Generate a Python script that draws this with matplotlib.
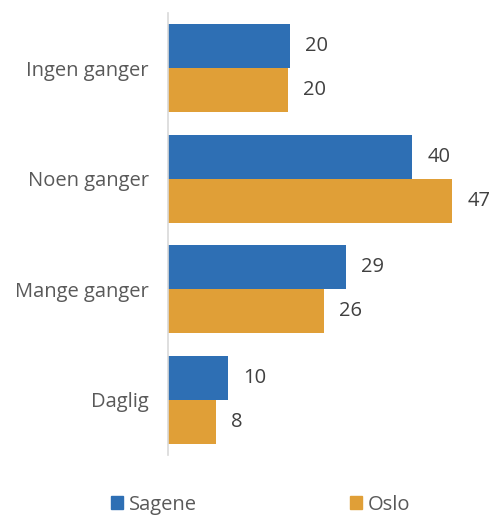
import numpy as np
import matplotlib.pyplot as plt
from matplotlib.patches import Patch

categories = ["Ingen ganger", "Noen ganger", "Mange ganger", "Daglig"]
sagene = [20.0, 40.0, 29.2, 9.8]
oslo = [19.6, 46.6, 25.6, 7.9]
series_names = ["Sagene", "Oslo"]

BLUE = "#2E6FB4"
ORANGE = "#E09F37"
FONT = "Open Sans"
FS = 14.5

fig = plt.figure(figsize=(4.92, 5.15), dpi=100)
ax = fig.add_axes([168 / 492, 60 / 515, 305 / 492, 442 / 515])

y = np.arange(len(categories))
h = 0.4
ax.barh(y - h / 2, sagene, height=h, color=BLUE)
ax.barh(y + h / 2, oslo, height=h, color=ORANGE)

for yi, v in zip(y, sagene):
    ax.text(v + 2.5, yi - h / 2, f"{v:.0f}", va="center", ha="left",
            fontsize=FS, color="#404040", family=FONT)
for yi, v in zip(y, oslo):
    ax.text(v + 2.5, yi + h / 2, f"{v:.0f}", va="center", ha="left",
            fontsize=FS, color="#404040", family=FONT)

ax.set_ylim(len(categories) - 0.5, -0.5)
ax.set_xlim(0, 50)
ax.set_yticks(y)
ax.set_yticklabels(categories, fontsize=FS, color="#595959", family=FONT)
ax.tick_params(axis="y", length=0, pad=14)
ax.set_xticks([])
for s in ["top", "right", "bottom"]:
    ax.spines[s].set_visible(False)
ax.spines["left"].set_color("#D9D9D9")
ax.spines["left"].set_linewidth(1.2)

handles = [Patch(color=BLUE), Patch(color=ORANGE)]
leg = fig.legend(handles, series_names, loc="center", bbox_to_anchor=(0.53, 0.02),
                 ncol=2, frameon=False, handlelength=0.6, handleheight=0.6,
                 handletextpad=0.3, columnspacing=7.6,
                 prop={"family": FONT, "size": FS})
for t in leg.get_texts():
    t.set_color("#595959")

fig.savefig("out.png", dpi=100)
